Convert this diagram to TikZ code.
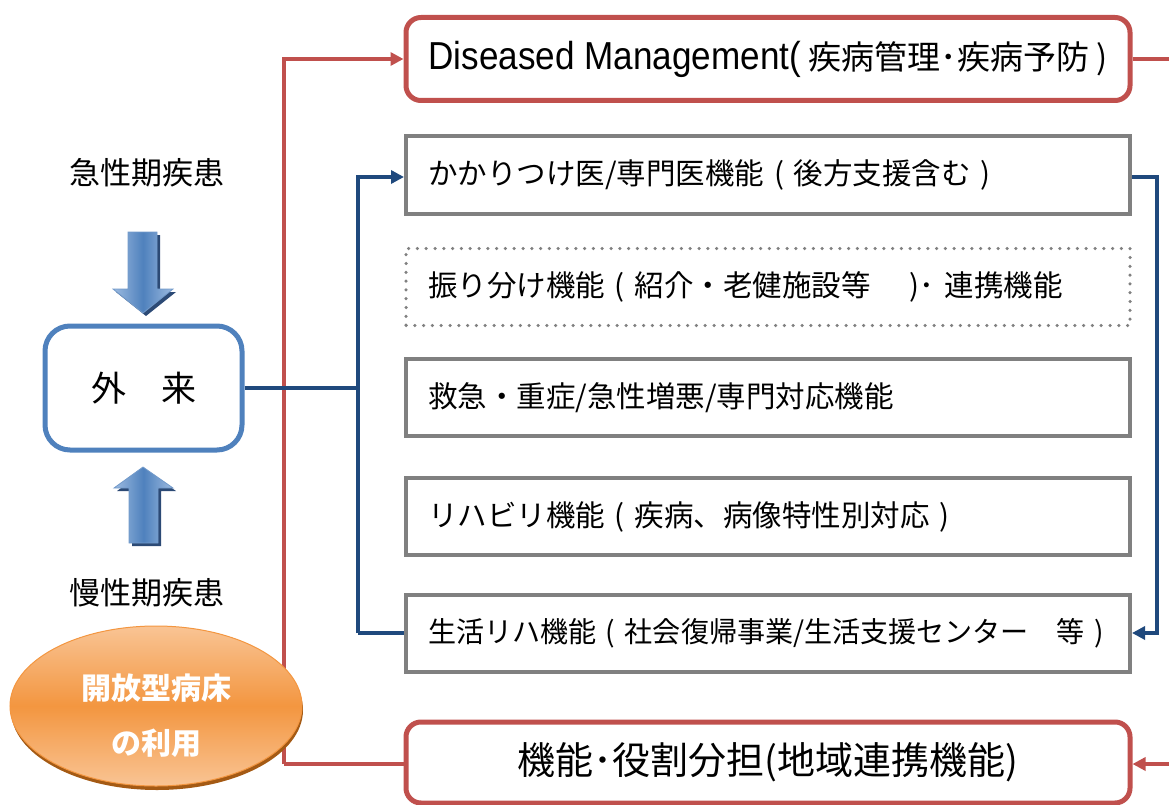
\documentclass[tikz,border=0pt]{standalone}
\usepackage{fontspec}
\setmainfont{Noto Sans CJK JP}
\newfontfamily\latinf{Liberation Sans}[FakeStretch=0.9]
\newfontfamily\jpnarrow{Noto Sans CJK JP}[FakeStretch=0.985]
\usetikzlibrary{arrows.meta,shapes.geometric}
\definecolor{myred}{HTML}{C0504D}
\definecolor{mydblue}{HTML}{1F497D}
\definecolor{mybox}{HTML}{4F81BD}
\definecolor{mygray}{HTML}{808080}
\definecolor{arrlight}{HTML}{9DBBE0}
\definecolor{arrshadow}{HTML}{2C4A75}
\definecolor{orlight}{HTML}{F9C494}
\definecolor{ormid}{HTML}{F39640}
\definecolor{orshadow}{HTML}{A45A14}
\begin{document}
\begin{tikzpicture}[x=1pt,y=-1pt,
  redbox/.style={draw=myred,line width=5pt,rounded corners=15pt,fill=white,
    minimum width=724pt,minimum height=83pt,inner sep=0pt,
    font=\fontsize{33}{40}\selectfont},
  graybox/.style={draw=mygray,line width=4pt,fill=white,
    minimum width=724pt,minimum height=77pt,inner xsep=22pt,inner ysep=0pt,
    text width=680pt,align=left,font=\fontsize{29.5}{34}\selectfont},
  dotbox/.style={graybox,draw=mygray,line width=3.5pt,dash pattern=on 0pt off 8.8pt,line cap=round},
  redline/.style={draw=myred,line width=4.5pt},
  blueline/.style={draw=mydblue,line width=4pt},
  tip/.style={-{Triangle[length=13pt,width=13pt]}},
  sidelabel/.style={font=\fontsize{31}{36}\selectfont},
  blockarrow/.style={draw=mybox!80,line width=0.8pt,left color=arrlight,right color=arrlight,middle color=mybox}
]
\useasboundingbox (0,0) rectangle (1169,805);

% nodes
\node[redbox] (dm) at (768,59) {{\latinf\fontsize{39}{40}\selectfont Diseased Management(} 疾病管理･疾病予防 )};
\node[graybox] (b1) at (768,175) {かかりつけ医/専門医機能 ( 後方支援含む )};
\node[dotbox] (b2) at (768,287) {振り分け機能 ( 紹介・老健施設等　 )･ 連携機能};
\node[graybox] (b3) at (768,397.5) {救急・重症/急性増悪/専門対応機能};
\node[graybox] (b4) at (768,516.5) {リハビリ機能 ( 疾病、病像特性別対応 )};
\node[graybox,text width=690pt,inner xsep=17pt,font=\jpnarrow\fontsize{28.5}{34}\selectfont] (b5) at (768,633.5) {\hspace*{5pt}生活リハ機能 ( 社会復帰事業/生活支援センター　等 )};
\node[redbox,minimum height=81pt,font=\fontsize{38}{40}\selectfont] (kn) at (768,762.5) {機能･役割分担(地域連携機能)};

\node[draw=mybox,line width=5pt,rounded corners=25pt,fill=white,
  minimum width=197pt,minimum height=124pt,font=\fontsize{35}{40}\selectfont] (gai) at (143.5,388) {外　来};

\node[sidelabel] (acute) at (147,173) {急性期疾患};
\node[sidelabel] (chronic) at (147,593) {慢性期疾患};

\coordinate (redA) at (284,59);
\coordinate (redB) at (284,764);
\coordinate (redR1) at (1169,59);
\coordinate (redR2) at (1169,764);
\coordinate (bJ) at (358,388);
\coordinate (bT) at (358,177);
\coordinate (bB) at (358,633);
\coordinate (bRT) at (1157,177);
\coordinate (bRB) at (1157,633);

% red connectors
\draw[redline,tip] (redB) -- (redA) -- (dm.west |- redA);
\draw[redline] (redB) -- (kn.west |- redB);
\draw[redline] (dm.east |- redR1) -- (redR1);
\draw[redline,tip] (redR2) -- (kn.east |- redR2);

% blue connectors
\draw[blueline] (gai.east |- bJ) -- (bJ);
\draw[blueline,tip] (bB) -- (bT) -- (b1.west |- bT);
\draw[blueline] (bB) -- (b5.west |- bB);
\draw[blueline,tip] (b1.east |- bRT) -- (bRT) -- (bRB) -- (b5.east |- bRB);

% block arrows
\fill[arrshadow] ([shift={(3,3)}]128,232) -- ++(29,0) -- ++(0,57) -- ++(16,0) -- ++(-30,24) -- ++(-30,-24) -- ++(15,0) -- cycle;
\path[blockarrow] (128,232) -- (157,232) -- (157,289) -- (173,289) -- (143,313) -- (113,289) -- (128,289) -- cycle;
\fill[arrshadow] ([shift={(3,3)}]143,467) -- ++(30,21) -- ++(-15,0) -- ++(0,55) -- ++(-29,0) -- ++(0,-55) -- ++(-15,0) -- cycle;
\path[blockarrow] (143,467) -- (173,488) -- (158,488) -- (158,543) -- (129,543) -- (129,488) -- (114,488) -- cycle;

% ellipse
\fill[orshadow] (157,710) ellipse [x radius=146pt, y radius=80pt];
\node[ellipse,draw=ormid,line width=1pt,top color=orlight,bottom color=orlight,middle color=ormid,
  minimum width=292pt,minimum height=160pt,inner sep=0pt] (open) at (156,706) {};
\node[text=white,align=center,font=\bfseries\fontsize{30}{55}\selectfont] (openlbl) at (156,716) {開放型病床\\の利用};
\end{tikzpicture}
\end{document}
